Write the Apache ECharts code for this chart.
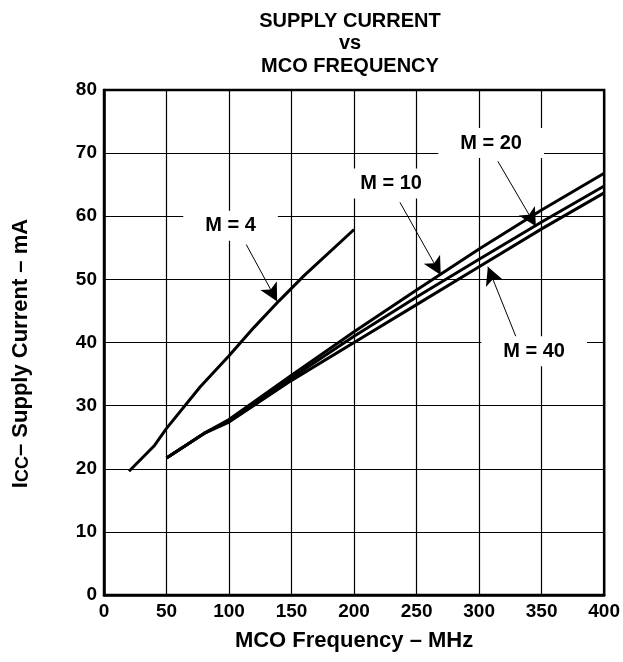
<!DOCTYPE html>
<html><head><meta charset="utf-8">
<script src="https://cdn.jsdelivr.net/npm/echarts@6/dist/echarts.min.js"></script>
<style>html,body{margin:0;padding:0;background:#fff}#c{width:623px;height:662px}</style>
</head><body><div id="c"></div>
<script>
const xTicks = [0, 50, 100, 150, 200, 250, 300, 350, 400];
const yTicks = [0, 10, 20, 30, 40, 50, 60, 70, 80];
const m4 = [[20,19.6],[40,23.6],[50,26.4],[77,33],[100,37.9],[120,42.4],[140,46.6],[160,50.6],[200,57.9]];
const m10 = [[50,21.7],[80,25.6],[100,27.8],[150,34.8],[200,41.7],[250,48.3],[300,54.8],[350,61],[400,66.8]];
const m20 = [[50,21.7],[80,25.6],[100,27.6],[150,34.4],[200,41],[250,47.2],[300,53.2],[350,59.1],[400,64.8]];
const m40 = [[50,21.7],[80,25.6],[100,27.4],[150,34],[200,40],[250,46],[300,52],[350,58],[400,63.7]];
const labelNames = ['M = 4', 'M = 10', 'M = 20', 'M = 40'];
const labelPos = [[101.2,58.5],[229.6,65.2],[309.6,71.6],[344,38.6]];
const arrowFrom = [[113.8,55.5],[236.7,62.2],[315,68.7],[329.5,40.9]];
const arrowTo = [[138.5,46.5],[269.3,50.7],[345.4,58.4],[307,52]];

const F = 'Liberation Sans, Arial, Helvetica, sans-serif';
const lineSeries = (name, data) => ({
  name, type: 'line', data, showSymbol: false, symbol: 'none', smooth: false,
  lineStyle: { color: '#000', width: 3 }, z: 3, animation: false
});

const chart = echarts.init(document.getElementById('c'), null, { renderer: 'canvas' });
chart.setOption({
  backgroundColor: '#fff',
  animation: false,
  title: {
    text: 'SUPPLY CURRENT\nvs\nMCO FREQUENCY',
    left: 345, top: 5, textAlign: 'center',
    textStyle: { fontFamily: F, fontWeight: 'bold', fontSize: 20, lineHeight: 22.5, color: '#000' }
  },
  grid: { left: 104, right: 16, top: 90, bottom: 67, containLabel: false,
    show: true, borderColor: '#000', borderWidth: 2.5, backgroundColor: 'transparent' },
  xAxis: {
    type: 'value', min: 0, max: 400, interval: 50,
    name: 'MCO Frequency – MHz', nameLocation: 'middle', nameGap: 35,
    nameTextStyle: { fontFamily: F, fontWeight: 'bold', fontSize: 22, color: '#000' },
    axisLine: { show: true, lineStyle: { color: '#000', width: 2.5 } },
    axisTick: { show: false },
    axisLabel: { fontFamily: F, fontWeight: 'bold', fontSize: 19, color: '#000', margin: 7,
      formatter: v => xTicks.includes(v) ? String(v) : '' },
    splitLine: { show: true, lineStyle: { color: '#000', width: 1.2 } }
  },
  yAxis: {
    type: 'value', min: 0, max: 80, interval: 10,
    name: '{a|I}{b|CC}{a|– Supply Current – mA}', nameLocation: 'middle', nameGap: 72, nameRotate: 90,
    nameTextStyle: { padding: [0, 22, 0, 0], rich: {
      a: { fontFamily: F, fontWeight: 'bold', fontSize: 22, color: '#000' },
      b: { fontFamily: F, fontWeight: 'bold', fontSize: 18, color: '#000', padding: [5,0,0,0] }
    } },
    axisLine: { show: true, lineStyle: { color: '#000', width: 2.5 } },
    axisTick: { show: false },
    axisLabel: { fontFamily: F, fontWeight: 'bold', fontSize: 19, color: '#000', margin: 7,
      formatter: v => yTicks.includes(v) ? String(v) : '' },
    splitLine: { show: true, lineStyle: { color: '#000', width: 1.2 } }
  },
  series: [
    lineSeries('M = 4', m4),
    lineSeries('M = 10', m10),
    lineSeries('M = 20', m20),
    lineSeries('M = 40', m40),
    {
      type: 'line', data: [], z: 5, animation: false,
      markLine: {
        silent: true, animation: false,
        symbol: ['none', 'triangle'],
        lineStyle: { color: '#000', width: 1, type: 'solid' },
        label: { show: false },
        data: arrowFrom.map((f, i) => [{ coord: f, symbol: 'none' }, { coord: arrowTo[i], symbol: 'arrow', symbolSize: [14, 18] }])
      },
      markPoint: {
        silent: true, animation: false, symbol: 'rect', symbolSize: 1,
        itemStyle: { color: 'rgba(0,0,0,0)' },
        label: {
          show: true, position: 'inside', fontFamily: F, fontWeight: 'bold', fontSize: 20, color: '#000',
          backgroundColor: '#fff', padding: [5, 22, 5, 22], formatter: p => p.name
        },
        data: labelNames.map((n, i) => ({ name: n, coord: labelPos[i] }))
      }
    }
  ]
});
</script></body></html>
